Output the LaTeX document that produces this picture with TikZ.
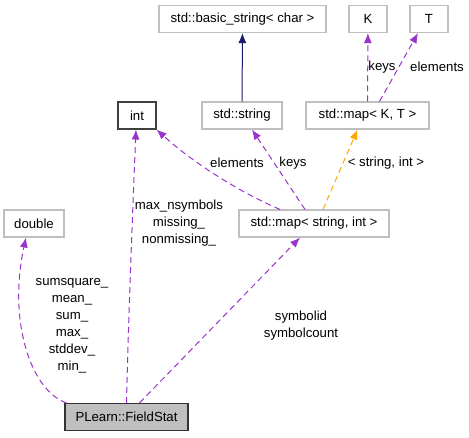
\documentclass[tikz,border=0pt]{standalone}
\usepackage{fontspec}
\setmainfont{Liberation Sans}
\usetikzlibrary{arrows.meta, arrows}

\definecolor{member}{HTML}{9A32CD}
\definecolor{tmpl}{HTML}{FFA500}
\definecolor{inherit}{HTML}{191970}
\definecolor{boxline}{HTML}{BFBFBF}

\begin{document}
\begin{tikzpicture}[x=1pt,y=-1pt,>={Latex[length=10pt,width=8pt]},font=\fontsize{13.2}{17}\selectfont]
	\tikzstyle{type}=[draw=boxline, line width=1.1pt, fill=white, minimum height=27pt, inner xsep=2pt]
	\tikzstyle{use}=[->, member, line width=1pt, dash pattern=on 6pt off 4pt]
	\tikzstyle{lbl}=[align=center, inner sep=0pt, text=black]

    \useasboundingbox (0,0) rectangle (469,437);

    \node [type, minimum width=167pt] (bstr) at (242.5,19) {std::basic\_string< char >};
    \node [type, minimum width=38pt] (k) at (368,19) {K};
    \node [type, minimum width=38pt] (t) at (429,19) {T};
    \node [type, minimum width=38pt, draw=black!75] (int) at (137,115.5) {int};
    \node [type, minimum width=80pt] (str) at (242,115.5) {std::string};
    \node [type, minimum width=123pt] (mkt) at (367.5,115.5) {std::map< K, T >};
    \node [type, minimum width=60pt] (dbl) at (34,223.5) {double};
    \node [type, minimum width=150pt] (msi) at (314,223.5) {std::map< string, int >};
    \node [type, minimum width=123pt, draw=black!80, fill=boxline] (fs) at (126.5,417) {PLearn::FieldStat};

    \draw[->, inherit, line width=1pt] (str) -- (bstr);
    \draw[use] (mkt) -- (k);
    \node[lbl] (l7) at (382,67) {keys};
    \draw[use] ([xshift=12pt]mkt.north) -- ([xshift=-11pt]t.south);
    \node[lbl] (l8) at (437,67) {elements};

    \draw[use] ([xshift=-34pt]msi.north) .. controls (235,190) and (190,160) .. (int.south east);
    \node[lbl] (l1) at (237,163) {elements};
    \draw[use] ([xshift=-9pt]msi.north) -- ([xshift=10pt]str.south);
    \node[lbl] (l2) at (293,163) {keys};
    \draw[->, tmpl, line width=1pt, dash pattern=on 6pt off 4pt] ([xshift=9pt]msi.north) -- ([xshift=-10pt]mkt.south);
    \node[lbl] (l3) at (386,163) {< string, int >};

    \draw[use] ([xshift=0pt]fs.north) .. controls (128,330) and (133,200) .. ([xshift=-1pt]int.south);
    \node[lbl] (l4) at (179,223.5) {max\_nsymbols\\missing\_\\nonmissing\_};
    \draw[use] ([xshift=-60pt]fs.north) .. controls (30,390) and (8,320) .. ([xshift=-8pt]dbl.south);
    \node[lbl] (l5) at (72,326) {sumsquare\_\\mean\_\\sum\_\\max\_\\stddev\_\\min\_};
    \draw[use] ([xshift=13pt]fs.north) -- ([xshift=-14pt]msi.south);
    \node[lbl] (l6) at (301,326) {symbolid\\symbolcount};
\end{tikzpicture}
\end{document}
